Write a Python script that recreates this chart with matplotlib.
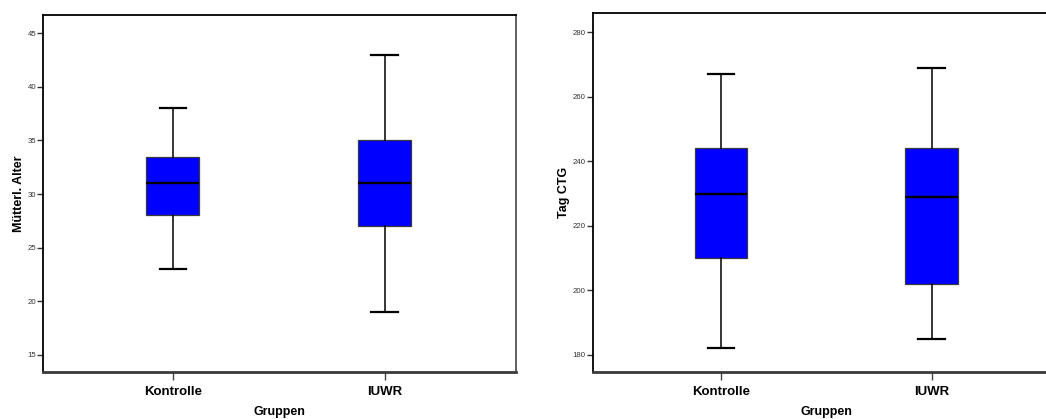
import matplotlib
matplotlib.use("Agg")
import matplotlib.pyplot as plt

plt.rcParams['font.family'] = ['Liberation Sans', 'DejaVu Sans']

# Kategorien und Kennwerte (unterer Whisker, Q1, Median, Q3, oberer Whisker)
gruppen = ["Kontrolle", "IUWR"]
alter_kontrolle = [23, 28, 31, 33.5, 38]
alter_iuwr = [19, 27, 31, 35, 43]
ctg_kontrolle = [182, 210, 230, 244, 267]
ctg_iuwr = [185, 202, 229, 244, 269]

alter_ticks = [15, 20, 25, 30, 35, 40, 45]
ctg_ticks = [180, 200, 220, 240, 260, 280]

W, H = 1046, 419


def stats(vals, label):
    lo, q1, med, q3, hi = vals
    return dict(whislo=lo, q1=q1, med=med, q3=q3, whishi=hi, label=label, fliers=[])


def draw(ax, data, ylabel, yticks, ylim, xlim):
    ax.bxp([stats(v, g) for v, g in zip(data, gruppen)], positions=[0, 1],
           widths=0.25, patch_artist=True, showfliers=False,
           boxprops=dict(facecolor='#0000ff', edgecolor='#3a3a3a', linewidth=0.9),
           medianprops=dict(color='black', linewidth=1.7),
           whiskerprops=dict(color='black', linewidth=1.1),
           capprops=dict(color='black', linewidth=1.6), capwidths=0.125)
    ax.set_xlim(*xlim)
    ax.set_ylim(*ylim)
    ax.set_yticks(yticks)
    ax.set_xticks([0, 1])
    ax.set_xticklabels(gruppen, fontsize=9.5, fontweight='bold')
    ax.tick_params(axis='y', labelsize=5.6, labelcolor='#333333', length=4,
                   width=1.0, color='#333333', pad=1)
    ax.tick_params(axis='x', length=6, width=1.0, color='#444444', pad=4)
    ax.set_xlabel("Gruppen", fontsize=9, fontweight='bold', labelpad=6)
    ax.set_ylabel(ylabel, fontsize=9, fontweight='bold', labelpad=2)
    for s in ['top', 'left']:
        ax.spines[s].set_linewidth(1.3)
        ax.spines[s].set_color('black')
    ax.spines['bottom'].set_linewidth(2.0)
    ax.spines['bottom'].set_color('#3a3a3a')
    ax.spines['right'].set_linewidth(1.3)
    ax.spines['right'].set_color('#555555')


fig = plt.figure(figsize=(W / 100, H / 100), dpi=100)

ax1 = fig.add_axes([43 / W, 1 - 372 / H, (516 - 43) / W, (372 - 15) / H])
draw(ax1, [alter_kontrolle, alter_iuwr], "Mütterl. Alter", alter_ticks,
     (13.4, 46.7), (-0.613, 1.62))

# rechtes Diagramm ragt über den Bildrand hinaus
ax2 = fig.add_axes([592.7 / W, 1 - 372 / H, (1061 - 592.7) / W, (372 - 13.3) / H])
draw(ax2, [ctg_kontrolle, ctg_iuwr], "Tag CTG", ctg_ticks,
     (174.7, 285.9), (-0.609, 1.614))

fig.savefig("out.png", dpi=100)
